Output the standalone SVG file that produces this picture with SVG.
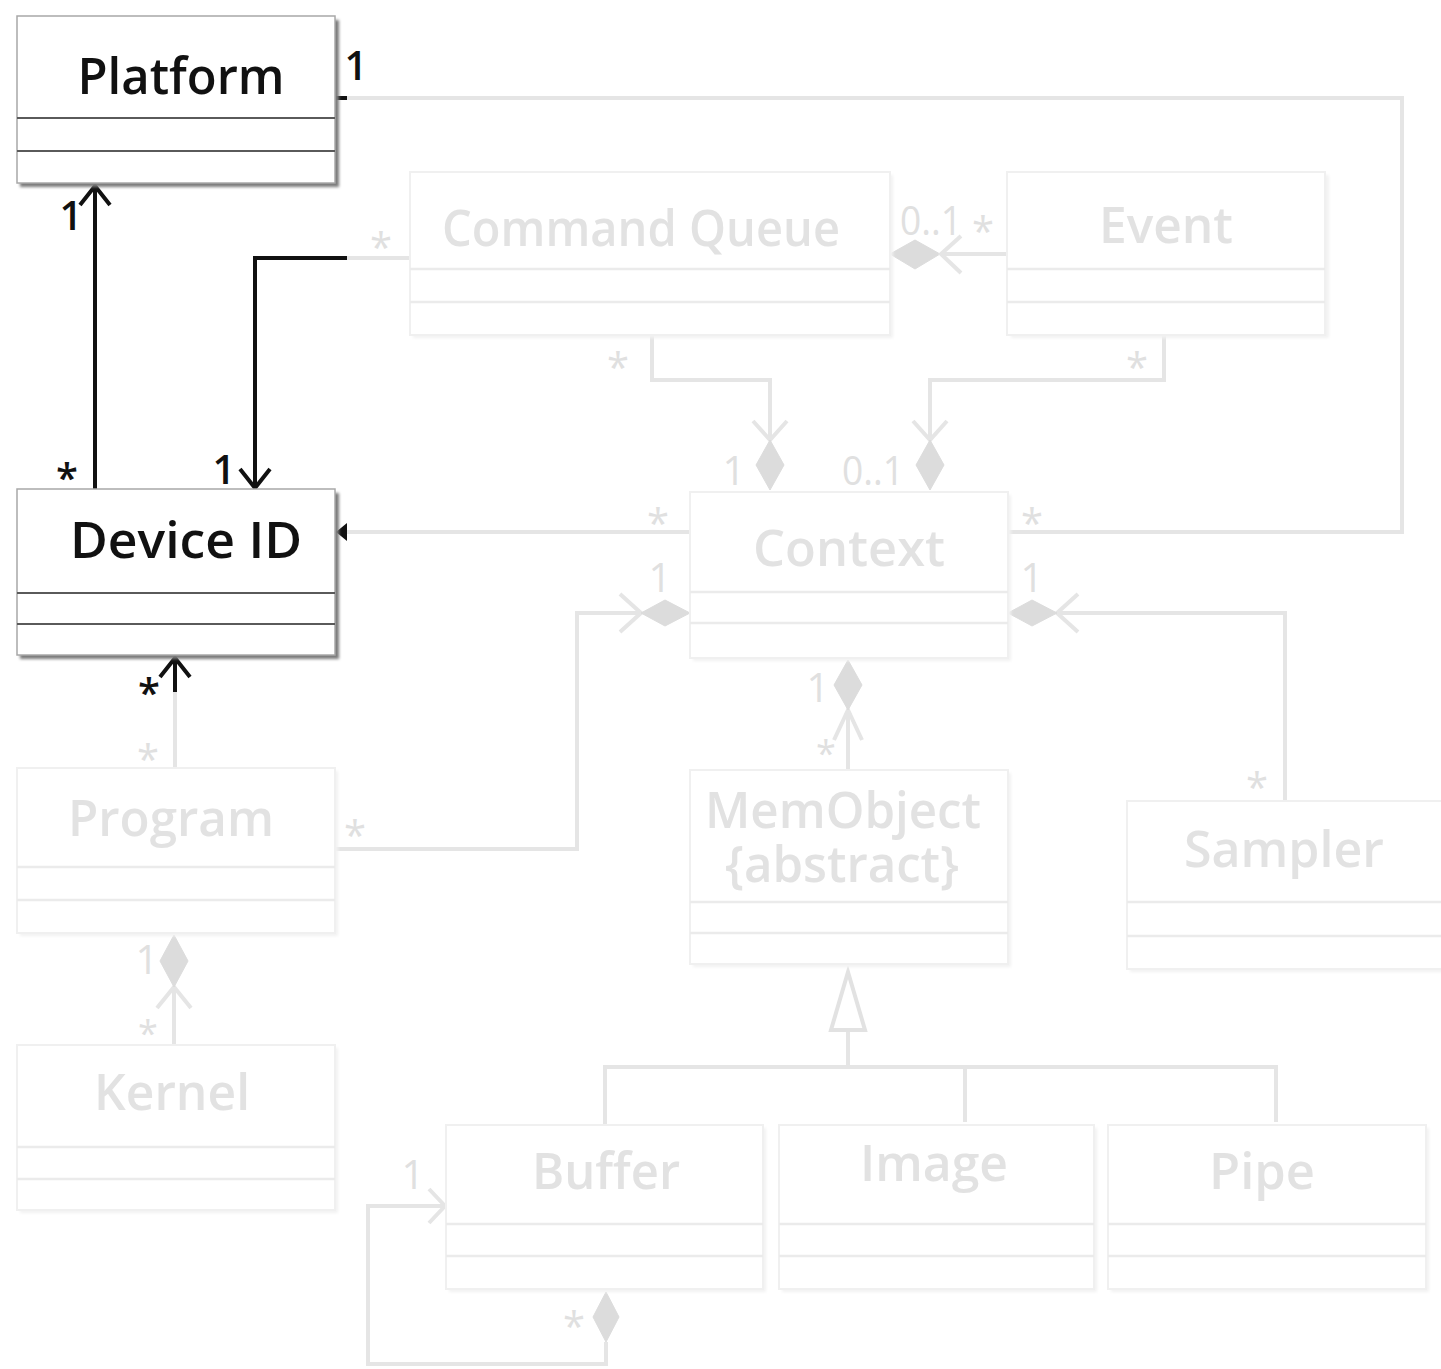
<svg xmlns="http://www.w3.org/2000/svg" width="1441" height="1369" viewBox="0 0 1441 1369">
  <style>
    .bg { fill: #ffffff; }
    .box-dark { fill: #ffffff; stroke: #a8a8a8; stroke-width: 1.5; }
    .shade-dark { fill: #7a7a7a; }
    .sep-dark { stroke: #5a5a5a; stroke-width: 2; }
    .box-light { fill: #ffffff; stroke: #f0f0f0; stroke-width: 2; }
    .shade-light { fill: #f2f2f2; }
    .sep-light { stroke: #ebebeb; stroke-width: 2.5; }
    .name { font-family: "Open Sans", "Liberation Sans", sans-serif; font-size: 50px; font-weight: 600; text-anchor: middle; }
    .name-dark { fill: #111111; }
    .name-light { fill: #e2e2e2; }
    .mult { font-family: "Open Sans", "Liberation Sans", sans-serif; font-size: 40px; text-anchor: middle; }
    .m-dark { fill: #111111; font-weight: 600; }
    .m-light { fill: #e0e0e0; }
    .m-small { font-size: 36px; }
    .ln-dark { fill: none; stroke: #111111; stroke-width: 4; stroke-linejoin: miter; }
    .ln-light { fill: none; stroke: #e5e5e5; stroke-width: 4; stroke-linejoin: miter; }
    .dia-light { fill: #dcdcdc; stroke: #dcdcdc; stroke-width: 1; }
    .tri-light { fill: #ffffff; stroke: #e2e2e2; stroke-width: 4; }
  </style>
  <defs>
    <filter id="soft" x="-10%" y="-10%" width="120%" height="120%">
      <feGaussianBlur stdDeviation="1.5"/>
    </filter>
  </defs>

  <rect class="bg" x="0" y="0" width="1441" height="1369"/>

  <!-- associations -->
  <g id="connectors">
    <!-- Platform 1 — * Context -->
    <path class="ln-light" d="M347,98 H1402 V532 H1008"/>
    <path class="ln-dark" d="M335,98 H347"/>

    <!-- Device ID * — 1 Platform -->
    <path class="ln-dark" d="M95,489 V187"/>
    <path class="ln-dark" d="M80,205 L95,186 L110,205"/>

    <!-- Command Queue * — 1 Device ID -->
    <path class="ln-light" d="M410,258 H346"/>
    <path class="ln-dark" d="M347,258 H255 V487"/>
    <path class="ln-dark" d="M240,469 L255,488 L270,469"/>

    <!-- Context * — Device ID -->
    <path class="ln-light" d="M690,532 H346"/>
    <polygon points="336,532 347,523 347,541" fill="#111111"/>

    <!-- Program * — * Device ID -->
    <path class="ln-light" d="M175,768 V690"/>
    <path class="ln-dark" d="M175,692 V659"/>
    <path class="ln-dark" d="M160,677 L175,658 L190,677"/>

    <!-- Event * — 0..1 Command Queue -->
    <path class="ln-light" d="M1008,254 H941"/>
    <polygon class="dia-light" points="890,254 915,240 940,254 915,269"/>
    <path class="ln-light" d="M961,236 L941,254 L961,273"/>

    <!-- Command Queue * — 1 Context -->
    <path class="ln-light" d="M652,335 V380 H770 V440"/>
    <path class="ln-light" d="M753,421 L770,440 L787,421"/>
    <polygon class="dia-light" points="770,440 784,465 770,490 756,465"/>

    <!-- Event * — 0..1 Context -->
    <path class="ln-light" d="M1164,335 V380 H930 V440"/>
    <path class="ln-light" d="M913,421 L930,440 L947,421"/>
    <polygon class="dia-light" points="930,440 944,465 930,490 916,465"/>

    <!-- Program * — 1 Context -->
    <path class="ln-light" d="M335,849 H577 V613 H641"/>
    <path class="ln-light" d="M620,594 L641,613 L620,632"/>
    <polygon class="dia-light" points="641,613 665,600 690,613 665,626"/>

    <!-- Sampler * — 1 Context -->
    <path class="ln-light" d="M1285,801 V613 H1057"/>
    <path class="ln-light" d="M1078,594 L1057,613 L1078,632"/>
    <polygon class="dia-light" points="1008,613 1032,600 1057,613 1032,626"/>

    <!-- MemObject * — 1 Context -->
    <path class="ln-light" d="M848,770 V710"/>
    <path class="ln-light" d="M834,740 L848,710 L862,740"/>
    <polygon class="dia-light" points="848,660 862,685 848,710 834,685"/>

    <!-- Kernel * — 1 Program -->
    <path class="ln-light" d="M174,1045 V987"/>
    <path class="ln-light" d="M157,1008 L174,987 L191,1008"/>
    <polygon class="dia-light" points="174,935 188,961 174,987 160,961"/>

    <!-- Buffer, Image, Pipe generalize MemObject -->
    <path class="ln-light" d="M848,1030 V1067"/>
    <path class="ln-light" d="M605,1125 V1067 H1276 V1122"/>
    <path class="ln-light" d="M965,1067 V1122"/>
    <polygon class="tri-light" points="848,972 831,1030 865,1030"/>

    <!-- Buffer * — 1 Buffer -->
    <path class="ln-light" d="M606,1342 V1364 H368 V1206 H444"/>
    <path class="ln-light" d="M429,1189 L445,1206 L429,1223"/>
    <polygon class="dia-light" points="606,1292 619,1317 606,1342 593,1317"/>
  </g>

  <!-- classes -->
  <g id="platform">
    <rect class="shade-dark" x="20" y="20" width="319" height="167" filter="url(#soft)"/>
    <rect class="box-dark" x="17" y="16" width="318" height="167"/>
    <line class="sep-dark" x1="17" y1="118" x2="335" y2="118"/>
    <line class="sep-dark" x1="17" y1="151" x2="335" y2="151"/>
    <text class="name name-dark" x="181" y="94" textLength="207" lengthAdjust="spacingAndGlyphs">Platform</text>
  </g>

  <g id="device-id">
    <rect class="shade-dark" x="20" y="493" width="319" height="166" filter="url(#soft)"/>
    <rect class="box-dark" x="17" y="489" width="318" height="166"/>
    <line class="sep-dark" x1="17" y1="593" x2="335" y2="593"/>
    <line class="sep-dark" x1="17" y1="624" x2="335" y2="624"/>
    <text class="name name-dark" x="186" y="558" textLength="232" lengthAdjust="spacingAndGlyphs">Device ID</text>
  </g>

  <g id="command-queue">
    <rect class="shade-light" x="413" y="175" width="480" height="163" filter="url(#soft)"/>
    <rect class="box-light" x="410" y="172" width="480" height="163"/>
    <line class="sep-light" x1="410" y1="269" x2="890" y2="269"/>
    <line class="sep-light" x1="410" y1="302" x2="890" y2="302"/>
    <text class="name name-light" x="641" y="246" textLength="398" lengthAdjust="spacingAndGlyphs">Command Queue</text>
  </g>

  <g id="event">
    <rect class="shade-light" x="1011" y="175" width="318" height="163" filter="url(#soft)"/>
    <rect class="box-light" x="1007" y="172" width="318" height="163"/>
    <line class="sep-light" x1="1007" y1="269" x2="1325" y2="269"/>
    <line class="sep-light" x1="1007" y1="302" x2="1325" y2="302"/>
    <text class="name name-light" x="1166" y="243" textLength="134" lengthAdjust="spacingAndGlyphs">Event</text>
  </g>

  <g id="context">
    <rect class="shade-light" x="693" y="495" width="318" height="166" filter="url(#soft)"/>
    <rect class="box-light" x="690" y="492" width="318" height="166"/>
    <line class="sep-light" x1="690" y1="592" x2="1008" y2="592"/>
    <line class="sep-light" x1="690" y1="623" x2="1008" y2="623"/>
    <text class="name name-light" x="849" y="566" textLength="192" lengthAdjust="spacingAndGlyphs">Context</text>
  </g>

  <g id="program">
    <rect class="shade-light" x="20" y="771" width="318" height="165" filter="url(#soft)"/>
    <rect class="box-light" x="17" y="768" width="318" height="165"/>
    <line class="sep-light" x1="17" y1="867" x2="335" y2="867"/>
    <line class="sep-light" x1="17" y1="900" x2="335" y2="900"/>
    <text class="name name-light" x="171" y="836" textLength="206" lengthAdjust="spacingAndGlyphs">Program</text>
  </g>

  <g id="kernel">
    <rect class="shade-light" x="20" y="1048" width="318" height="165" filter="url(#soft)"/>
    <rect class="box-light" x="17" y="1045" width="318" height="165"/>
    <line class="sep-light" x1="17" y1="1147" x2="335" y2="1147"/>
    <line class="sep-light" x1="17" y1="1179" x2="335" y2="1179"/>
    <text class="name name-light" x="172" y="1110" textLength="156" lengthAdjust="spacingAndGlyphs">Kernel</text>
  </g>

  <g id="memobject">
    <rect class="shade-light" x="693" y="773" width="318" height="194" filter="url(#soft)"/>
    <rect class="box-light" x="690" y="770" width="318" height="194"/>
    <line class="sep-light" x1="690" y1="902" x2="1008" y2="902"/>
    <line class="sep-light" x1="690" y1="933" x2="1008" y2="933"/>
    <text class="name name-light"><tspan x="843" y="828" textLength="276" lengthAdjust="spacingAndGlyphs">MemObject</tspan><tspan x="842" y="882" textLength="234" lengthAdjust="spacingAndGlyphs">{abstract}</tspan></text>
  </g>

  <g id="sampler">
    <rect class="shade-light" x="1130" y="804" width="318" height="168" filter="url(#soft)"/>
    <rect class="box-light" x="1127" y="801" width="318" height="168"/>
    <line class="sep-light" x1="1127" y1="902" x2="1441" y2="902"/>
    <line class="sep-light" x1="1127" y1="936" x2="1441" y2="936"/>
    <text class="name name-light" x="1284" y="867" textLength="200" lengthAdjust="spacingAndGlyphs">Sampler</text>
  </g>

  <g id="buffer">
    <rect class="shade-light" x="449" y="1128" width="317" height="164" filter="url(#soft)"/>
    <rect class="box-light" x="446" y="1125" width="317" height="164"/>
    <line class="sep-light" x1="446" y1="1224" x2="763" y2="1224"/>
    <line class="sep-light" x1="446" y1="1256" x2="763" y2="1256"/>
    <text class="name name-light" x="606" y="1189" textLength="148" lengthAdjust="spacingAndGlyphs">Buffer</text>
  </g>

  <g id="image">
    <rect class="shade-light" x="782" y="1128" width="315" height="164" filter="url(#soft)"/>
    <rect class="box-light" x="779" y="1125" width="315" height="164"/>
    <line class="sep-light" x1="779" y1="1224" x2="1094" y2="1224"/>
    <line class="sep-light" x1="779" y1="1256" x2="1094" y2="1256"/>
    <text class="name name-light" x="934" y="1181" textLength="148" lengthAdjust="spacingAndGlyphs">Image</text>
  </g>

  <g id="pipe">
    <rect class="shade-light" x="1111" y="1128" width="318" height="164" filter="url(#soft)"/>
    <rect class="box-light" x="1108" y="1125" width="318" height="164"/>
    <line class="sep-light" x1="1108" y1="1224" x2="1426" y2="1224"/>
    <line class="sep-light" x1="1108" y1="1256" x2="1426" y2="1256"/>
    <text class="name name-light" x="1262" y="1189" textLength="106" lengthAdjust="spacingAndGlyphs">Pipe</text>
  </g>

  <!-- multiplicities -->
  <g id="multiplicities">
    <text class="mult m-dark" x="356" y="80">1</text>
    <text class="mult m-dark" x="71" y="230">1</text>
    <text class="mult m-dark" x="67" y="492">*</text>
    <text class="mult m-dark" x="224" y="484">1</text>
    <text class="mult m-dark" x="149" y="707">*</text>

    <text class="mult m-light" x="381" y="262">*</text>
    <text class="mult m-light" x="931" y="235" textLength="62" lengthAdjust="spacingAndGlyphs">0..1</text>
    <text class="mult m-light" x="983" y="246">*</text>
    <text class="mult m-light" x="618" y="382">*</text>
    <text class="mult m-light" x="1137" y="382">*</text>
    <text class="mult m-light" x="734" y="485">1</text>
    <text class="mult m-light" x="873" y="485" textLength="62" lengthAdjust="spacingAndGlyphs">0..1</text>
    <text class="mult m-light" x="658" y="538">*</text>
    <text class="mult m-light" x="1032" y="538">*</text>
    <text class="mult m-light" x="660" y="592">1</text>
    <text class="mult m-light" x="1032" y="592">1</text>
    <text class="mult m-light" x="818" y="702">1</text>
    <text class="mult m-light m-small" x="826" y="766">*</text>
    <text class="mult m-light" x="1257" y="802">*</text>
    <text class="mult m-light" x="148" y="774">*</text>
    <text class="mult m-light" x="355" y="850">*</text>
    <text class="mult m-light" x="147" y="974">1</text>
    <text class="mult m-light m-small" x="148" y="1046">*</text>
    <text class="mult m-light" x="413" y="1189">1</text>
    <text class="mult m-light" x="574" y="1341">*</text>
  </g>
</svg>
